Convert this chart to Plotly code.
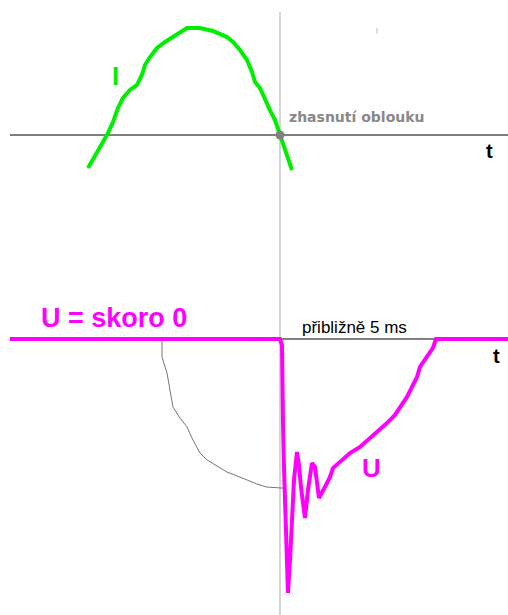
import plotly.graph_objects as go

# ---- data (time in ms, 0 = arc extinction; I and U normalised) ----
t_i = [-6.194, -5.968, -5.710, -5.548, -5.387, -5.226, -5.065, -4.839, -4.613, -4.452,
       -4.355, -4.194, -3.968, -3.710, -3.452, -3.226, -3.0, -2.581, -2.323, -2.161,
       -1.710, -1.516, -1.290, -1.065, -0.903, -0.806, -0.645, -0.484, -0.323, -0.161,
       0.0, 0.161, 0.387]
i_vals = [-0.306, -0.185, -0.065, 0.019, 0.120, 0.250, 0.343, 0.417, 0.463, 0.556,
          0.648, 0.722, 0.806, 0.861, 0.907, 0.954, 0.991, 0.991, 0.972, 0.963,
          0.907, 0.861, 0.787, 0.694, 0.583, 0.491, 0.435, 0.324, 0.231, 0.139,
          0.0, -0.111, -0.324]

t_u = [-8.710, 0.0, 0.065, 0.065, 0.097, 0.129, 0.161, 0.226, 0.258, 0.323, 0.387,
       0.452, 0.548, 0.613, 0.677, 0.806, 0.903, 1.032, 1.129, 1.258, 1.484, 1.613,
       1.710, 1.935, 2.258, 2.581, 2.903, 3.161, 3.452, 3.710, 3.935, 4.097, 4.258,
       4.419, 4.516, 4.742, 4.935, 5.03, 7.355]
u_vals = [0.0, 0.0, -0.024, -0.161, -0.331, -0.504, -0.661, -0.870, -1.0, -0.870, -0.713,
          -0.555, -0.445, -0.496, -0.583, -0.705, -0.594, -0.488, -0.504, -0.626, -0.575, -0.543,
          -0.508, -0.484, -0.449, -0.425, -0.390, -0.366, -0.331, -0.299, -0.260, -0.228, -0.189,
          -0.150, -0.110, -0.071, -0.035, 0.0, 0.0]

t_env = [-3.806, -3.806, -3.645, -3.548, -3.452, -3.226, -3.0, -2.806, -2.581, -2.355,
         -2.032, -1.710, -1.387, -1.065, -0.742, -0.419, 0.097]
u_env = [-0.004, -0.071, -0.134, -0.201, -0.268, -0.311, -0.346, -0.398, -0.449, -0.476,
         -0.500, -0.524, -0.539, -0.555, -0.571, -0.583, -0.587]

t_min, t_max = -9.032, 7.355
axis_start = -8.710
label_top = ["I", "zhasnutí oblouku", "t"]
label_bottom = ["U = skoro 0", "přibližně 5 ms", "t", "U"]

GREEN = "#00ee00"
MAGENTA = "#ff00ff"

fig = go.Figure()

fig.add_trace(go.Scatter(x=t_i, y=i_vals, mode="lines", xaxis="x", yaxis="y",
                         line=dict(color=GREEN, width=4), hoverinfo="skip"))
fig.add_trace(go.Scatter(x=[0.0], y=[0.0], mode="markers", xaxis="x", yaxis="y",
                         marker=dict(color="#808080", size=9), hoverinfo="skip"))
fig.add_trace(go.Scatter(x=t_env, y=u_env, mode="lines", xaxis="x", yaxis="y2",
                         line=dict(color="#777777", width=1), hoverinfo="skip"))
fig.add_trace(go.Scatter(x=t_u, y=u_vals, mode="lines", xaxis="x", yaxis="y2",
                         line=dict(color=MAGENTA, width=4), hoverinfo="skip"))

shapes = [
    # vertical line at arc extinction
    dict(type="line", xref="x", yref="paper", x0=0, x1=0, y0=0, y1=0.9805,
         line=dict(color="#c8c8c8", width=1.5), layer="below"),
    # time axes
    dict(type="line", xref="x", yref="y", x0=axis_start, x1=t_max, y0=0, y1=0,
         line=dict(color="#555555", width=1.5), layer="below"),
    dict(type="line", xref="x", yref="y2", x0=axis_start, x1=t_max, y0=0, y1=0,
         line=dict(color="#000000", width=1), layer="below"),
    # tiny mark
    dict(type="line", xref="x", yref="y", x0=3.13, x1=3.13, y0=0.94, y1=0.99,
         line=dict(color="#bbbbbb", width=1), layer="below"),
]

SANS = "Liberation Sans"
annotations = [
    dict(x=-5.306, y=0.542, xref="x", yref="y", text="<b>I</b>", showarrow=False,
         font=dict(family=SANS, size=26, color=GREEN)),
    dict(x=0.226, y=0.167, xref="x", yref="y", text="<b>zhasnutí oblouku</b>", showarrow=False,
         xanchor="left", font=dict(family="DejaVu Sans", size=14, color="#888888")),
    dict(x=6.774, y=-0.148, xref="x", yref="y", text="<b>t</b>", showarrow=False,
         font=dict(family=SANS, size=20, color="#000000")),
    dict(x=-7.774, y=0.081, xref="x", yref="y2", text="<b>U = skoro 0</b>", showarrow=False,
         xanchor="left", font=dict(family=SANS, size=27, color=MAGENTA)),
    dict(x=0.645, y=0.047, xref="x", yref="y2", text="přibližně 5 ms", showarrow=False,
         xanchor="left", font=dict(family=SANS, size=17, color="#000000")),
    dict(x=6.968, y=-0.067, xref="x", yref="y2", text="<b>t</b>", showarrow=False,
         font=dict(family=SANS, size=20, color="#000000")),
    dict(x=2.952, y=-0.508, xref="x", yref="y2", text="<b>U</b>", showarrow=False,
         font=dict(family=SANS, size=26, color=MAGENTA)),
]

hidden = dict(visible=False, showgrid=False, zeroline=False, fixedrange=True)
fig.update_layout(
    width=508, height=615,
    margin=dict(l=0, r=0, t=0, b=0),
    paper_bgcolor="white", plot_bgcolor="white",
    showlegend=False,
    xaxis=dict(range=[t_min, t_max], **hidden),
    yaxis=dict(range=[-1.0648, 1.25], domain=[0.5935, 1.0], anchor="x", **hidden),
    yaxis2=dict(range=[-1.0866, 0.3504], domain=[0.0, 0.5935], anchor="x", **hidden),
    shapes=shapes,
    annotations=annotations,
)

fig.write_html(
    "out.html",
    config={"displayModeBar": False},
    post_script="document.body.style.margin='0';document.body.style.overflow='hidden';",
)
